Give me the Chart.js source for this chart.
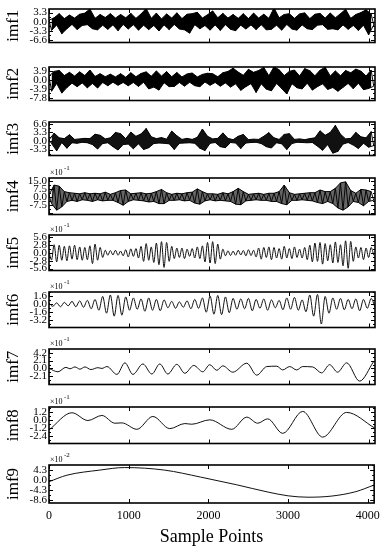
<!DOCTYPE html>
<html>
<head>
<meta charset="utf-8">
<script src="https://cdn.jsdelivr.net/npm/chart.js@4.4.1/dist/chart.umd.min.js"></script>
<style>
    body { margin: 0; background: #fff; }
    #wrap { position: relative; width: 386px; height: 550px; overflow: hidden; }
    #wrap canvas { position: absolute; left: 0; }
</style>
</head>
<body>
<div id="wrap"></div>
<script>
// sample spacing of the dense series (read peak to peak)
const STEP_FAST = 32;
const STEP_IMF6 = 48;
const X_MAX = 4080;
const X_TICKS = [0, 1000, 2000, 3000, 4000];

const imf1 = [
    0.5, -3.2, 1.4, -1.2, 2.9, -4.4, 1.1, -2.6, 2.4, -1.0, 1.3, -2.9, 2.7, -1.4, 3.1, -1.1,
    4.6, -2.6, 1.2, -3.0, 2.6, -1.3, 1.5, -2.8, 2.9, -1.2, 1.3, -3.3, 2.6, -1.0, 1.4, -2.7,
    3.0, -1.1, 1.2, -3.1, 2.8, -1.3, 4.8, -2.9, 1.2, -1.4, 3.1, -3.4, 1.0, -1.2, 2.8, -2.9,
    1.3, -1.0, 3.2, -2.7, 1.1, -3.0, 2.7, -4.2, 2.9, -1.1, 3.4, -2.6, 1.3, -1.4, 2.5, -3.1,
    3.9, -1.2, 1.4, -3.2, 3.0, -1.1, 1.3, -2.8, 2.6, -3.3, 1.2, -1.3, 2.9, -2.7, 1.1, -1.2,
    3.1, -2.9, 1.3, -1.1, 2.7, -3.0, 1.2, -2.8, 5.0, -1.3, 1.4, -3.1, 2.6, -1.0, 2.9, -2.7,
    1.2, -3.1, 2.8, -1.2, 3.2, -2.6, 1.1, -2.9, 2.7, -1.3, 3.0, -1.1, 1.3, -2.8, 3.1, -2.6,
    1.4, -3.0, 2.9, -1.2, 4.5, -2.8, 1.2, -1.4, 2.6, -3.2, 3.3, -1.3, 4.3, -4.8, 2.8, -1.2
];
const imf2 = [
    1.5, -5.0, 3.6, -1.6, 4.0, -5.8, 1.8, -3.4, 3.2, -1.5, 1.6, -3.0, 3.4, -1.4, 1.8, -3.5,
    4.2, -1.6, 1.4, -3.6, 2.6, -1.2, 1.3, -2.6, 2.4, -1.1, 1.2, -2.4, 2.6, -1.2, 1.1, -2.6,
    3.0, -1.2, 1.3, -2.9, 2.7, -1.1, 3.4, -4.0, 1.5, -3.2, 3.8, -4.5, 1.6, -1.3, 3.5, -3.0,
    1.3, -2.9, 3.1, -1.2, 1.2, -2.8, 2.5, -1.1, 2.9, -2.6, 1.2, -3.0, 2.3, -1.0, 2.8, -2.4,
    2.6, -1.2, 1.3, -2.8, 3.0, -1.4, 3.6, -3.2, 5.0, -1.8, 3.3, -4.6, 1.9, -3.0, 4.5, -1.7,
    3.2, -5.5, 4.0, -1.8, 5.3, -4.1, 1.7, -4.8, 5.6, -1.6, 4.3, -3.8, 1.8, -6.2, 3.6, -1.7,
    4.2, -3.5, 1.6, -4.0, 4.8, -1.5, 3.9, -4.5, 1.7, -3.0, 4.1, -1.8, 5.4, -4.2, 1.6, -3.4,
    3.8, -5.0, 1.7, -3.3, 4.0, -1.6, 3.0, -3.9, 4.6, -1.5, 3.7, -4.3, 1.6, -3.8, 4.2, -2.8
];
const imf3 = [
    0.4, -1.0, 3.0, -3.8, 1.2, -0.6, 0.9, -2.8, 2.4, -0.7, 0.6, -0.9, 0.8, -0.5, 1.0, -0.7,
    0.9, -1.4, 2.6, -3.1, 2.2, -1.0, 0.8, -0.7, 1.2, -2.2, 3.3, -3.5, 2.8, -1.4, 0.9, -1.2,
    3.4, -3.0, 1.8, -1.1, 2.7, -3.3, 4.8, -2.6, 1.6, -1.0, 0.9, -0.8, 1.3, -0.9, 0.7, -1.1,
    3.8, -3.3, 2.0, -0.9, 0.6, -0.8, 1.0, -0.7, 0.6, -0.9, 1.4, -2.8, 4.6, -3.7, 1.8, -0.9,
    0.8, -0.6, 1.0, -2.2, 3.1, -2.6, 1.0, -0.6, 0.5, -0.8, 1.8, -2.9, 2.5, -0.8, 0.5, -0.6,
    0.7, -0.5, 0.6, -1.0, 1.8, -2.2, 3.2, -2.7, 1.2, -0.7, 0.6, -1.1, 2.5, -3.3, 2.8, -1.0,
    0.6, -0.5, 0.8, -0.6, 0.5, -0.7, 0.9, -0.6, 1.2, -2.0, 3.9, -3.6, 2.2, -1.4, 3.3, -4.7,
    6.0, -4.0, 2.6, -1.2, 0.8, -0.6, 1.0, -1.6, 3.3, -2.9, 1.6, -0.9, 1.2, -2.4, 3.6, -1.8
];
const imf4 = [
    2, -6, 11, -12, 10, -9, 5, -4, 4, -3, 3.5, -4, 3, -2.5, 4, -3,
    3, -4, 3.5, -2.5, 3, -3.5, 4.5, -3, 2.5, -3, 4, -5, 6, -7.5, 6.5, -4,
    3, -2.5, 3.5, -3, 4, -3.5, 3, -4.5, 3.5, -4, 5, -6, 7, -6, 4, -3,
    2.5, -3, 3.5, -2.5, 3, -3.5, 4, -3, 4.5, -5.5, 7.5, -6.5, 5, -3.5, 3, -2.5,
    3, -3.5, 2.5, -3, 4, -3.5, 3, -4, 5, -6.5, 8, -7, 5, -3.5, 2.5, -3,
    3, -2.5, 3.5, -3, 2.5, -3, 3.5, -4, 3.5, -4, 5, -6, 11, -7, 4, -3,
    2.5, -3, 3, -2.5, 3.5, -3, 4, -3.5, 4, -5, 6.5, -6, 5, -4, 5, -6,
    8, -10, 13, -12, 14, -9, 6, -4, 3.5, -5, 7, -8, 6.5, -4, 5, -3
];
const imf5 = [
    0.5, -2.5, 3.0, -3.2, 2.8, -2.6, 2.4, -2.8, 2.6, -2.2, 2.8, -2.4, 2.2, -2.6, 2.0, -2.4,
    2.6, -3.8, 3.2, -2.6, 2.0, -1.6, 1.0, -0.8, 0.9, -0.7, 1.0, -0.8, 0.7, -1.0, 1.2, -1.4,
    1.5, -1.2, 1.6, -1.8, 2.4, -3.0, 3.4, -2.6, 2.2, -3.4, 3.6, -4.2, 4.1, -5.2, 3.8, -3.0,
    2.4, -2.0, 1.8, -1.6, 1.8, -2.0, 1.4, -1.2, 1.6, -1.8, 2.2, -2.0, 2.6, -3.2, 3.8, -3.6,
    4.1, -3.8, 3.2, -2.2, 1.4, -1.0, 0.8, -0.9, 0.7, -0.8, 1.0, -0.7, 0.9, -1.0, 1.2, -0.9,
    1.0, -1.4, 1.8, -2.2, 2.0, -1.6, 2.2, -2.4, 2.0, -1.8, 1.6, -2.2, 2.4, -1.8, 1.6, -2.0,
    2.2, -1.6, 1.4, -1.8, 2.0, -2.4, 2.8, -3.2, 3.6, -3.0, 3.8, -4.0, 3.4, -2.8, 3.0, -3.6,
    4.0, -3.4, 3.0, -4.6, 4.4, -5.5, 4.2, -3.0, 2.2, -1.8, 2.0, -2.4, 1.8, -1.6, 2.0, -0.8
];
const imf6 = [
    0.2, -0.4, 0.3, -0.5, 0.4, -0.3, 0.6, -0.5, 0.7, -0.6,
    0.8, -0.9, 1.0, -1.2, 1.6, -1.8, 1.9, -2.4, 1.8, -2.2,
    1.5, -1.2, 1.3, -1.0, 1.1, -1.4, 1.3, -1.2, 1.0, -1.3,
    0.9, -0.7, 0.6, -0.8, 0.5, -0.6, 0.7, -0.9, 1.0, -0.8,
    1.3, -1.6, 1.7, -2.0, 1.8, -2.1, 1.5, -1.7, 1.2, -1.0,
    1.1, -0.9, 1.2, -1.3, 1.0, -0.8, 1.1, -1.2, 0.9, -0.7,
    0.8, -1.1, 1.3, -1.0, 1.4, -1.2, 0.9, -1.5, 1.9, -2.4,
    2.0, -4.0, 1.6, -1.8, 1.3, -1.0, 1.2, -1.1, 1.0, -0.9,
    1.1, -1.3, 1.0, -0.8, 1.2, -0.6
];
const imf7X = [0, 112, 212, 262, 325, 387, 450, 525, 612, 662, 725, 850, 950, 1050, 1175, 1287, 1387, 1487, 1600, 1700,
    1812, 1925, 2012, 2100, 2175, 2300, 2475, 2600, 2725, 2850, 2925, 3012, 3100, 3175, 3300, 3412, 3512, 3612, 3725, 3887, 4062];
const imf7 = [0.0, -0.9, 0.3, -0.1, 0.4, -0.2, 0.4, -0.3, 0.2, 0.0, 0.5, -1.6, 1.5, -1.6, 1.2, -1.5, 1.2, -1.5, 1.1, -1.3,
    0.8, -0.9, 1.0, -0.5, 0.7, -1.0, 1.4, -1.8, 0.5, 0.6, -0.4, 0.5, -0.4, 0.5, 0.4, -1.2, 1.0, -1.0, 1.5, -3.4, 1.8];
const imf8X = [0, 287, 487, 662, 825, 912, 1100, 1300, 1512, 1700, 1787, 2012, 2287, 2475, 2612, 2737, 2925, 3175, 3425, 3725, 4075];
const imf8 = [-1.5, 1.05, -0.1, 0.65, -0.5, -0.45, -1.4, 0.5, -1.3, -0.55, -0.65, 0.0, -1.4, 0.4, -0.5, 0.15, -2.0, 1.25, -2.55, 1.1, -1.2];
const imf9X = [0, 225, 637, 950, 1450, 1900, 2350, 2750, 3000, 3250, 3550, 3850, 4075];
const imf9 = [-0.7, 2.1, 4.3, 5.4, 4.3, 1.3, -2.0, -5.2, -6.8, -7.4, -6.9, -5.0, -2.2];

const names = ['imf1', 'imf2', 'imf3', 'imf4', 'imf5', 'imf6', 'imf7', 'imf8', 'imf9'];
const yTicks = [
    [3.3, 0, -3.3, -6.6],
    [3.9, 0, -3.9, -7.8],
    [6.6, 3.3, 0, -3.3],
    [15, 7.5, 0, -7.5],
    [5.6, 2.8, 0, -2.8, -5.6],
    [1.6, 0, -1.6, -3.2],
    [4.2, 2.1, 0, -2.1],
    [1.2, 0, -1.2, -2.4],
    [4.3, 0, -4.3, -8.6]
];
const yLimits = [[-7.6, 4.6], [-9.0, 5.5], [-5.6, 7.3], [-16, 17.5], [-6.3, 6.5], [-4.7, 2.5], [-4.3, 5.2], [-3.5, 1.9], [-9.9, 6.5]];
const exponents = [null, null, null, '-1', '-1', '-1', '-1', '-1', '-2'];

function uniform(vals, step) {
    return vals.map((v, i) => ({ x: i * step, y: v }));
}
function paired(xs, ys) {
    return xs.map((x, i) => ({ x: x, y: ys[i] }));
}
const series = [
    uniform(imf1, STEP_FAST), uniform(imf2, STEP_FAST), uniform(imf3, STEP_FAST), uniform(imf4, STEP_FAST),
    uniform(imf5, STEP_FAST), uniform(imf6, STEP_IMF6),
    paired(imf7X, imf7), paired(imf8X, imf8), paired(imf9X, imf9)
];
// the fastest modes are so dense in the original they read as a filled band
// between their peaks and troughs
const bandFill = ['#000', '#000', '#111', 'rgba(0,0,0,0.6)', null, null, null, null, null];

// layout of the boxes
const boxTop = [9, 67, 122, 178, 235, 292, 349, 407, 465];
const boxH = [37, 37, 37, 40, 39, 39, 39, 40, 38];
const FONT = '"Liberation Serif", "DejaVu Serif", serif';

// inward tick marks + frame, matlab style
const frameTicks = {
    id: 'frameTicks',
    afterDatasetsDraw(chart, args, opts) {
        const ctx = chart.ctx;
        const a = chart.chartArea;
        const x = chart.scales.x;
        const y = chart.scales.y;
        ctx.save();
        ctx.strokeStyle = '#000';
        ctx.lineWidth = 1;
        ctx.beginPath();
        X_TICKS.forEach(v => {
            const px = Math.round(x.getPixelForValue(v)) + 0.5;
            ctx.moveTo(px, a.top); ctx.lineTo(px, a.top + 4);
            ctx.moveTo(px, a.bottom); ctx.lineTo(px, a.bottom - 4);
        });
        const tv = opts.ticks;
        const step = Math.abs(tv[0] - tv[1]);
        const marks = [];
        tv.forEach(v => marks.push([v, 4]));
        for (let v = tv[tv.length - 1] - step * 1.5; v < y.max + step; v += step) {
            if (v > y.min && v < y.max) marks.push([v, 2]);
        }
        const big = tv[0] + step;
        if (big < y.max) marks.push([big, 4]);
        const low = tv[tv.length - 1] - step;
        if (low > y.min) marks.push([low, 4]);
        marks.forEach(([v, len]) => {
            const py = Math.round(y.getPixelForValue(v)) + 0.5;
            ctx.moveTo(a.left, py); ctx.lineTo(a.left + len, py);
            ctx.moveTo(a.right, py); ctx.lineTo(a.right - len, py);
        });
        ctx.stroke();
        ctx.lineWidth = 1.6;
        ctx.strokeRect(a.left, a.top, a.right - a.left, a.bottom - a.top);
        if (opts.exp) {
            ctx.fillStyle = '#000';
            ctx.font = '8px ' + FONT;
            ctx.textBaseline = 'alphabetic';
            ctx.fillText('\u00d710', a.left + 1, a.top - 3);
            ctx.font = '7px ' + FONT;
            ctx.fillText(opts.exp, a.left + 15, a.top - 8);
        }
        ctx.restore();
    }
};

function buildDatasets(i) {
    const line = {
        data: series[i],
        borderColor: '#111',
        borderWidth: 1,
        pointRadius: 0,
        fill: false,
        tension: 0,
        cubicInterpolationMode: i >= 4 ? 'monotone' : 'default'
    };
    if (!bandFill[i]) return [line];
    const env = {
        borderColor: '#000',
        borderWidth: 1,
        pointRadius: 0,
        tension: 0
    };
    return [
        Object.assign({}, env, { data: series[i].filter(p => p.y >= 0), fill: false }),
        Object.assign({}, env, { data: series[i].filter(p => p.y < 0), fill: '-1', backgroundColor: bandFill[i] }),
        line
    ];
}

function createPanel(i) {
    const last = i === names.length - 1;
    const padTop = 13;
    const canvas = document.createElement('canvas');
    const top = boxTop[i] - padTop;
    const h = last ? 550 - top : boxH[i] + padTop + 4;
    canvas.width = 386;
    canvas.height = h;
    canvas.style.top = top + 'px';
    canvas.style.width = '386px';
    canvas.style.height = h + 'px';
    document.getElementById('wrap').appendChild(canvas);

    new Chart(canvas.getContext('2d'), {
        type: 'line',
        data: { datasets: buildDatasets(i) },
        options: {
            responsive: false,
            animation: false,
            devicePixelRatio: 1,
            events: [],
            layout: { padding: { top: padTop, right: 11, bottom: last ? 0 : 4, left: 0 } },
            plugins: {
                legend: { display: false },
                tooltip: { enabled: false },
                filler: { propagate: false },
                frameTicks: { ticks: yTicks[i], exp: exponents[i] }
            },
            scales: {
                x: {
                    type: 'linear',
                    min: 0,
                    max: X_MAX,
                    display: last,
                    afterBuildTicks: s => { s.ticks = X_TICKS.map(v => ({ value: v })); },
                    afterFit: s => { s.height = last ? 47 : 0; },
                    grid: { display: false, drawTicks: false },
                    border: { display: false },
                    ticks: {
                        autoSkip: false, maxRotation: 0, padding: 6, color: '#000',
                        font: { family: FONT, size: 12 },
                        callback: v => String(v)
                    },
                    title: { display: true, text: 'Sample Points', color: '#000', font: { family: FONT, size: 18 }, padding: { top: 1, bottom: 2 } }
                },
                y: {
                    type: 'linear',
                    min: yLimits[i][0],
                    max: yLimits[i][1],
                    afterBuildTicks: s => { s.ticks = yTicks[i].map(v => ({ value: v })); },
                    afterFit: s => { s.width = 49; },
                    grid: { display: false, drawTicks: false },
                    border: { display: false },
                    ticks: {
                        autoSkip: false, padding: 2, color: '#000',
                        font: { family: FONT, size: 11, lineHeight: 1 },
                        callback: v => Number(v).toFixed(1)
                    },
                    title: { display: true, text: names[i], color: '#000', font: { family: FONT, size: 17 }, padding: { top: 3, bottom: 0 } }
                }
            }
        },
        plugins: [frameTicks]
    });
}

names.forEach((n, i) => createPanel(i));
</script>
</body>
</html>
